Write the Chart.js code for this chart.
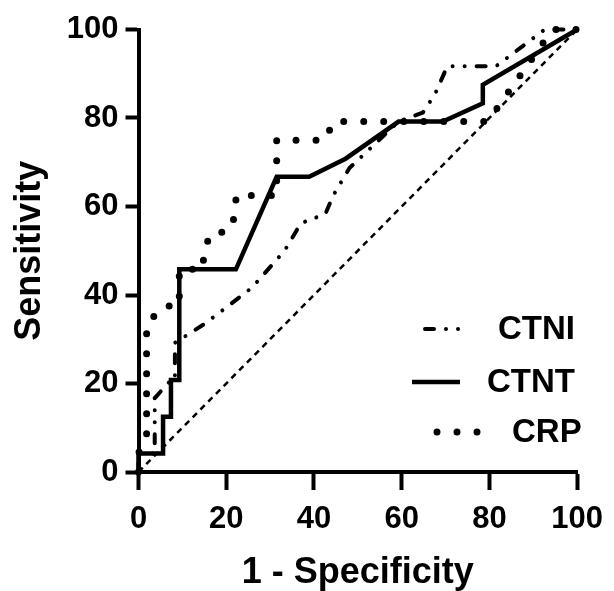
<!DOCTYPE html>
<html>
<head>
<meta charset="utf-8">
<script src="https://cdn.jsdelivr.net/npm/chart.js@4"></script>
<style>
  body { margin: 0; background: #fff; }
  #wrap { width: 614px; height: 591px; }
</style>
</head>
<body>
<div id="wrap"><canvas id="rocChart"></canvas></div>
<script>
// ROC data (1 - specificity %, sensitivity %)
const ctniX = [0, 0, 3.7, 3.7, 7.4, 8.3, 8.3, 14.8, 20.4, 25.9, 33.3, 37, 42.6, 44.4, 48.1, 59.3, 64.8, 67.6, 70.4, 81.5, 92.6, 100];
const ctniY = [0, 4.2, 4.2, 16.7, 20.8, 20.8, 29.2, 33.3, 37.5, 41.7, 50, 56.2, 58.3, 62.5, 68.7, 79.2, 81.2, 85.4, 91.7, 91.7, 100, 100];

const ctntX = [0, 0, 5.6, 5.6, 7.4, 7.4, 9.3, 9.3, 22.2, 31.5, 38.9, 47.2, 59.3, 69.4, 78.5, 78.5, 100];
const ctntY = [0, 4.2, 4.2, 12.5, 12.5, 20.8, 20.8, 45.8, 45.8, 66.7, 66.7, 70.8, 79.2, 79.2, 83.3, 87.5, 100];

const crpX = [0, 0, 1.85, 1.85, 3.7, 5.6, 9.3, 9.3, 14.8, 14.8, 16.7, 20.4, 22.2, 22.2, 31.5, 31.5, 42.6, 44.4, 79.6, 94.4, 100];
const crpY = [0, 4.2, 8.3, 33.3, 35.4, 37.5, 37.5, 45.8, 45.8, 50, 54.2, 54.2, 58.3, 62.5, 62.5, 75, 75, 79.2, 79.2, 100, 100];

const refX = [0, 100];
const refY = [0, 100];

const seriesNames = ["CTNI", "CTNT", "CRP"];
const tickValues = [0, 20, 40, 60, 80, 100];

function pts(xs, ys) {
    return xs.map((x, i) => ({ x: x, y: ys[i] }));
}

const ink = "#000";

// legend drawn inside the plot, bottom right
const insideLegend = {
    id: "insideLegend",
    afterDatasetsDraw(chart) {
        const ctx = chart.ctx;
        const rows = [
            { ds: 0, x1: 425, x2: 460, y: 329, tx: 498 },
            { ds: 1, x1: 412, x2: 460, y: 382, tx: 487 },
            { ds: 2, x1: 437, x2: 478, y: 432, tx: 512 }
        ];
        ctx.save();
        rows.forEach(r => {
            const ds = chart.data.datasets[r.ds];
            ctx.strokeStyle = ink;
            ctx.lineWidth = ds.borderWidth;
            ctx.lineCap = ds.borderCapStyle || "butt";
            ctx.setLineDash(ds.borderDash || []);
            ctx.beginPath();
            ctx.moveTo(r.x1, r.y);
            ctx.lineTo(r.x2, r.y);
            ctx.stroke();
            ctx.setLineDash([]);
            ctx.fillStyle = ink;
            ctx.font = "bold 33px 'Liberation Sans', Arial, sans-serif";
            ctx.textAlign = "left";
            ctx.textBaseline = "middle";
            ctx.fillText(ds.label, r.tx, r.y + 1);
        });
        ctx.restore();
    }
};

const axisFont = { family: "'Liberation Sans', Arial, sans-serif", weight: "bold", size: 31 };
const titleFont = { family: "'Liberation Sans', Arial, sans-serif", weight: "bold", size: 36, lineHeight: 1.0 };

new Chart(document.getElementById("rocChart"), {
    type: "scatter",
    data: {
        datasets: [
            {
                label: seriesNames[0],
                data: pts(ctniX, ctniY),
                showLine: true,
                borderColor: ink,
                borderWidth: 4,
                borderDash: [9, 12, 0.01, 12, 0.01, 12],
                borderCapStyle: "round",
                pointRadius: 0,
                clip: false
            },
            {
                label: seriesNames[1],
                data: pts(ctntX, ctntY),
                showLine: true,
                borderColor: ink,
                borderWidth: 4.5,
                borderCapStyle: "butt",
                borderJoinStyle: "miter",
                pointRadius: 0,
                clip: false
            },
            {
                label: seriesNames[2],
                data: pts(crpX, crpY),
                showLine: true,
                borderColor: ink,
                borderWidth: 7,
                borderDash: [0, 20],
                borderCapStyle: "round",
                pointRadius: 0,
                clip: false
            },
            {
                label: "reference",
                data: pts(refX, refY),
                showLine: true,
                borderColor: ink,
                borderWidth: 2.5,
                borderDash: [6, 5],
                pointRadius: 0,
                clip: false
            }
        ]
    },
    options: {
        responsive: true,
        maintainAspectRatio: false,
        animation: false,
        layout: { padding: { left: 0, right: 30, top: 29.5, bottom: 0 } },
        plugins: {
            legend: { display: false },
            tooltip: { enabled: false }
        },
        scales: {
            x: {
                type: "linear",
                min: 0,
                max: 100,
                afterBuildTicks: s => { s.ticks = tickValues.map(v => ({ value: v })); },
                afterFit: s => { s.height = 119; },
                grid: { drawOnChartArea: false, drawTicks: true, tickLength: 18, tickWidth: 4, tickColor: ink },
                border: { display: true, color: ink, width: 4 },
                ticks: { color: ink, font: axisFont, padding: 11, maxRotation: 0 },
                title: { display: true, text: "1 - Specificity", color: ink, font: titleFont, padding: { top: 0, bottom: 0 } }
            },
            y: {
                type: "linear",
                min: 0,
                max: 100,
                afterBuildTicks: s => { s.ticks = tickValues.map(v => ({ value: v })); },
                afterFit: s => { s.width = 138.5; },
                grid: { drawOnChartArea: false, drawTicks: true, tickLength: 13, tickWidth: 4, tickColor: ink },
                border: { display: true, color: ink, width: 4 },
                ticks: { color: ink, font: axisFont, padding: 7 },
                title: { display: true, text: "Sensitivity", color: ink, font: titleFont, padding: { top: 12, bottom: 0 } }
            }
        }
    },
    plugins: [insideLegend]
});
</script>
</body>
</html>
